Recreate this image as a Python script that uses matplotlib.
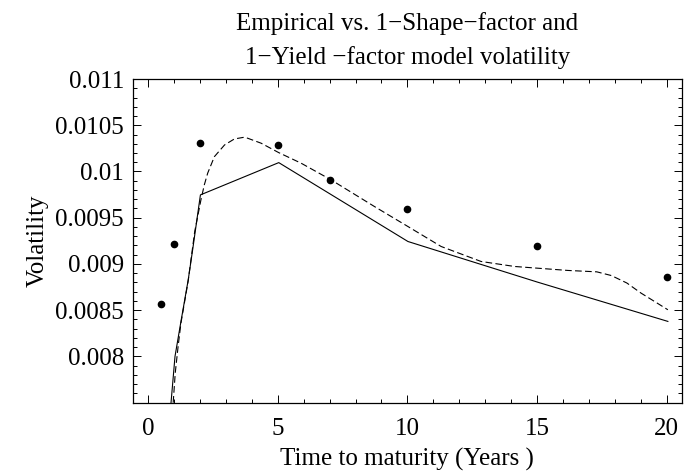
import matplotlib
matplotlib.use("Agg")
import matplotlib.pyplot as plt
from matplotlib.ticker import FixedLocator, MultipleLocator

# empirical volatility (dots)
emp_t = [0.5, 1, 2, 5, 7, 10, 15, 20]
emp_vol = [0.008567, 0.009218, 0.010306, 0.010284, 0.009909, 0.009593, 0.009197, 0.008862]

# 1-yield-factor model (solid)
yld_t = [0.887, 1.04, 1.27, 1.55, 1.72, 2.02, 5.04, 10.02, 15.0, 20.04]
yld_vol = [0.0075, 0.008, 0.008379, 0.008829, 0.009153, 0.009747, 0.010096, 0.009243, 0.008805, 0.008379]

# 1-shape-factor model (dashed)
shp_t = [0.97, 1.05, 1.16, 1.27, 1.55, 1.8, 2.04, 2.17, 2.3, 2.56, 2.95, 3.33, 3.7, 3.84,
         4.36, 5.04, 5.9, 7.06, 8.73, 10.02, 11.3, 12.84, 14.13, 16.19, 17.3, 17.86, 18.46, 19.0, 20.04]
shp_vol = [0.0075, 0.007822, 0.008109, 0.008362, 0.00882, 0.00935, 0.009693, 0.009855, 0.009982,
           0.010161, 0.010287, 0.010352, 0.01037, 0.01036, 0.010306, 0.010204, 0.01009, 0.009909,
           0.009621, 0.009405, 0.009189, 0.009027, 0.008973, 0.00893, 0.008915, 0.008875, 0.008794,
           0.008686, 0.008505]

yticks = [0.008, 0.0085, 0.009, 0.0095, 0.01, 0.0105, 0.011]
ytick_labels = ["0.008", "0.0085", "0.009", "0.0095", "0.01", "0.0105", "0.011"]
xticks = [0, 5, 10, 15, 20]
xtick_labels = ["0", "5", "10", "15", "20"]

plt.rcParams['font.family'] = ['Liberation Serif', 'DejaVu Serif']

fig = plt.figure(figsize=(6.84, 4.76), dpi=100)
ax = fig.add_axes([0.1944, 0.154, 0.8025, 0.680])

ax.plot(yld_t, yld_vol, color='black', lw=0.8)
ax.plot(shp_t, shp_vol, color='black', lw=0.8, linestyle=(0, (6, 3)))
ax.plot(emp_t, emp_vol, 'o', color='black', markersize=4.5)

ax.set_xlim(-0.58, 20.58)
ax.set_ylim(0.0075, 0.011)

ax.yaxis.set_major_locator(FixedLocator(yticks))
ax.set_yticklabels(ytick_labels)
ax.yaxis.set_minor_locator(MultipleLocator(0.0001))
ax.xaxis.set_major_locator(FixedLocator(xticks))
ax.set_xticklabels(xtick_labels)
ax.xaxis.set_minor_locator(MultipleLocator(1))

ax.tick_params(which='both', direction='in', top=True, right=True, labelsize=18, width=0.7)
ax.tick_params(which='major', length=6)
ax.tick_params(which='minor', length=3)
ax.tick_params(axis='x', which='major', pad=11)
ax.tick_params(axis='y', which='major', pad=6.5)
for sp in ax.spines.values():
    sp.set_linewidth(0.9)

ax.set_title("Empirical vs. 1\u2212Shape\u2212factor and\n1\u2212Yield \u2212factor model volatility",
             fontsize=18, linespacing=1.6, pad=11)
ax.set_xlabel("Time to maturity (Years )", fontsize=18, labelpad=6)
ax.set_ylabel("Volatility", fontsize=18, labelpad=5)

fig.savefig("out.png", dpi=100)
